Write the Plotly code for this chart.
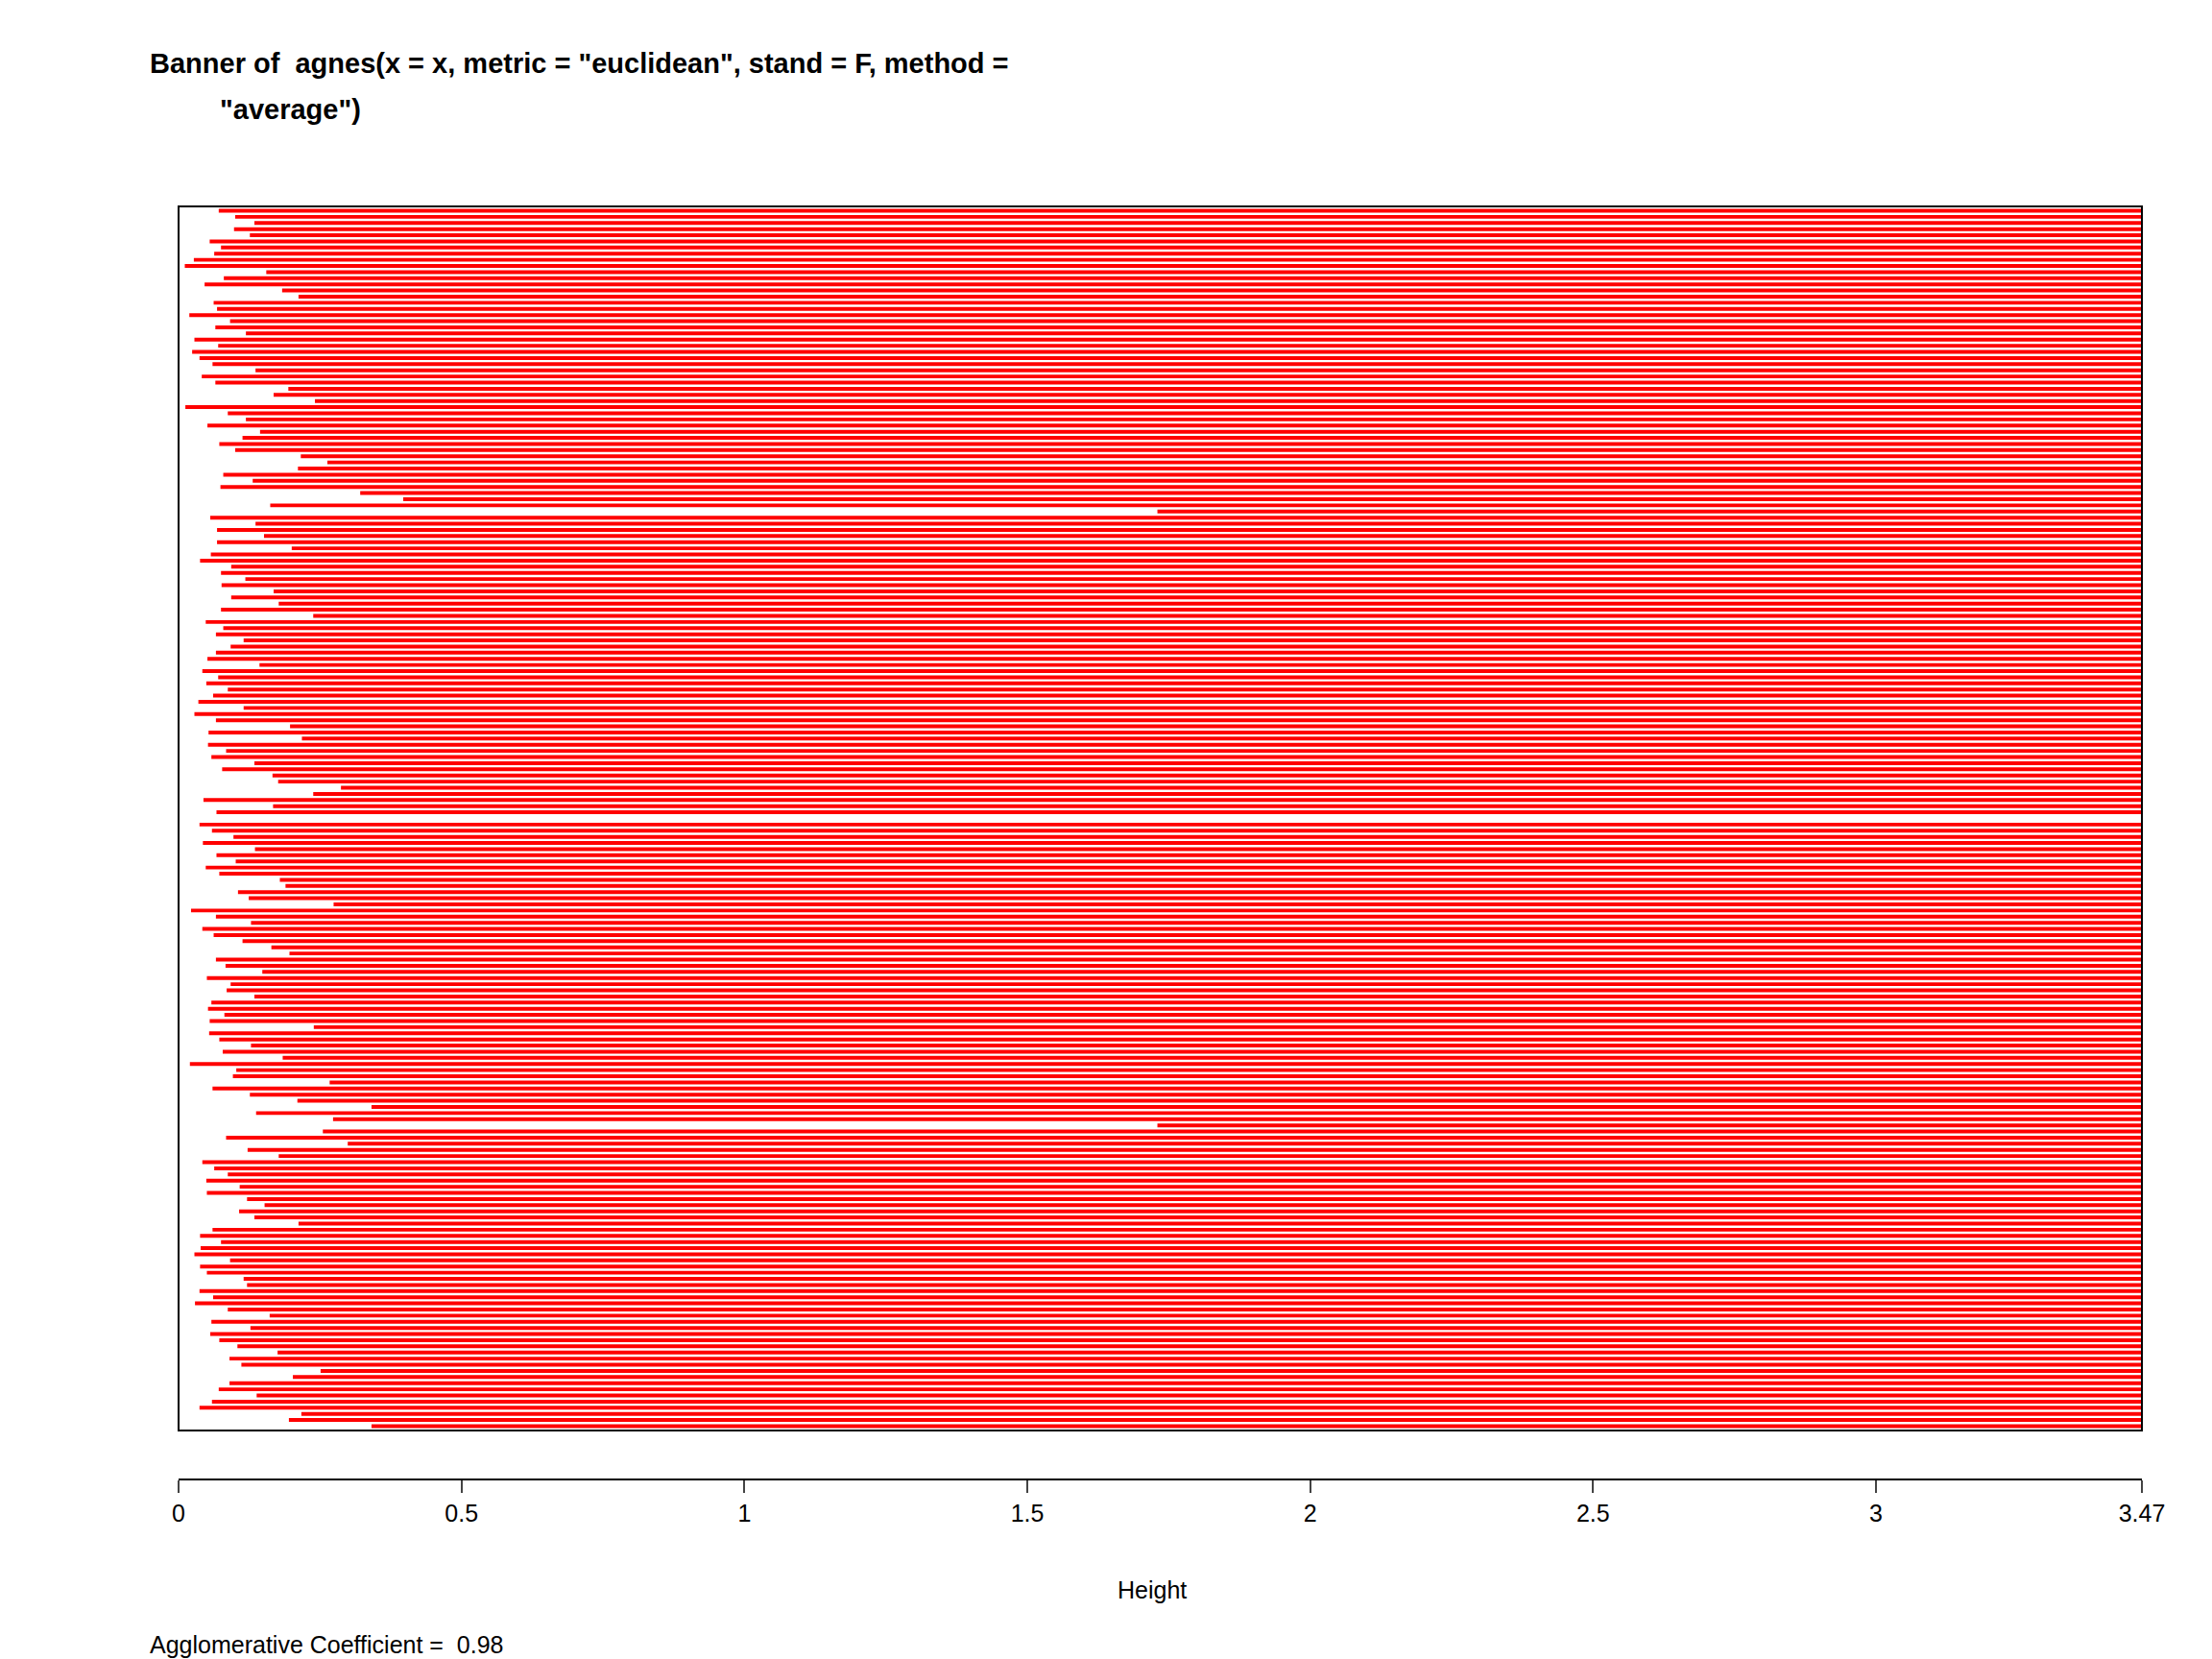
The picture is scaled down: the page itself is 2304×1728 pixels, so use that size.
import plotly.graph_objects as go

heights = [
    0.071, 0.100, 0.134, 0.098, 0.126, 0.055, 0.075, 0.063, 0.027, 0.011, 0.155, 0.080, 0.046,
    0.183, 0.212, 0.062, 0.068, 0.019, 0.091, 0.065, 0.119, 0.028, 0.070, 0.024, 0.037,
    0.060, 0.136, 0.041, 0.065, 0.194, 0.168, 0.241, 0.012, 0.087, 0.119, 0.051, 0.144, 0.113,
    0.072, 0.100, 0.216, 0.263, 0.211, 0.079, 0.131, 0.074, 0.321, 0.397, 0.162, 1.73,
    0.056, 0.136, 0.068, 0.151, 0.068, 0.200, 0.057, 0.038, 0.093, 0.075, 0.118, 0.076, 0.168,
    0.093, 0.177, 0.075, 0.238, 0.048, 0.079, 0.066, 0.115, 0.092, 0.066, 0.051, 0.143,
    0.042, 0.070, 0.049, 0.087, 0.061, 0.035, 0.115, 0.028, 0.066, 0.197, 0.053, 0.218, 0.052,
    0.084, 0.058, 0.134, 0.077, 0.166, 0.176, 0.287, 0.238, 0.044, 0.167, 0.067, 3.47,
    0.037, 0.059, 0.097, 0.043, 0.135, 0.067, 0.101, 0.048, 0.072, 0.179, 0.189, 0.105, 0.124,
    0.274, 0.022, 0.066, 0.128, 0.042, 0.062, 0.113, 0.164, 0.196, 0.066, 0.083, 0.148,
    0.050, 0.092, 0.085, 0.134, 0.058, 0.052, 0.081, 0.055, 0.239, 0.054, 0.072, 0.128, 0.078,
    0.184, 0.020, 0.102, 0.096, 0.267, 0.060, 0.126, 0.210, 0.341, 0.137, 0.273, 1.73,
    0.255, 0.084, 0.299, 0.122, 0.177, 0.042, 0.063, 0.087, 0.049, 0.108, 0.050, 0.121, 0.152,
    0.107, 0.134, 0.212, 0.060, 0.038, 0.075, 0.039, 0.028, 0.091, 0.038, 0.050, 0.115,
    0.121, 0.037, 0.061, 0.029, 0.087, 0.161, 0.058, 0.127, 0.056, 0.072, 0.104, 0.175, 0.090,
    0.111, 0.251, 0.202, 0.090, 0.071, 0.138, 0.059, 0.037, 0.217, 0.195, 0.341,
]
max_height = 3.47
tick_vals = [0, 0.5, 1, 1.5, 2, 2.5, 3, 3.47]
tick_text = ["0", "0.5", "1", "1.5", "2", "2.5", "3", "3.47"]

rows = list(range(len(heights)))
fig = go.Figure(go.Bar(
    y=rows,
    x=[max_height - h for h in heights],
    base=heights,
    orientation="h",
    marker=dict(color="#ff0000", line=dict(width=0)),
    width=0.62,
))

font = "Liberation Sans, Arial, sans-serif"
fig.update_layout(
    width=2304, height=1728,
    paper_bgcolor="white", plot_bgcolor="white",
    margin=dict(l=178, r=81, t=207, b=195),
    showlegend=False,
    font=dict(family=font, size=25, color="black"),
    xaxis=dict(range=[0, max_height], tickvals=tick_vals, ticktext=tick_text,
               anchor="free", position=0,
               showgrid=False, zeroline=False, showline=True, linecolor="black",
               linewidth=2, ticks="outside", ticklen=13, tickwidth=2,
               tickfont=dict(size=25)),
    yaxis=dict(range=[len(heights) - 0.3, -0.7], domain=[0.0385, 1],
               showticklabels=False, showgrid=False, zeroline=False),
    shapes=[dict(type="rect", xref="paper", yref="paper", x0=0, x1=1, y0=0.0385, y1=1,
                 line=dict(color="black", width=2))],
    annotations=[
        dict(text="<b>Banner of  agnes(x = x, metric = \"euclidean\", stand = F, method =</b>",
             xref="paper", yref="paper", x=-0.0155, y=1.112, xanchor="left", yanchor="middle",
             showarrow=False, font=dict(size=29)),
        dict(text="<b>\"average\")</b>",
             xref="paper", yref="paper", x=0.020, y=1.076, xanchor="left", yanchor="middle",
             showarrow=False, font=dict(size=29)),
        dict(text="Height", xref="paper", yref="paper", x=0.496, y=-0.087,
             xanchor="center", yanchor="middle", showarrow=False, font=dict(size=25)),
        dict(text="Agglomerative Coefficient =  0.98", xref="paper", yref="paper",
             x=-0.0155, y=-0.130, xanchor="left", yanchor="middle", showarrow=False,
             font=dict(size=25)),
    ],
)

fig.write_html("out.html")
